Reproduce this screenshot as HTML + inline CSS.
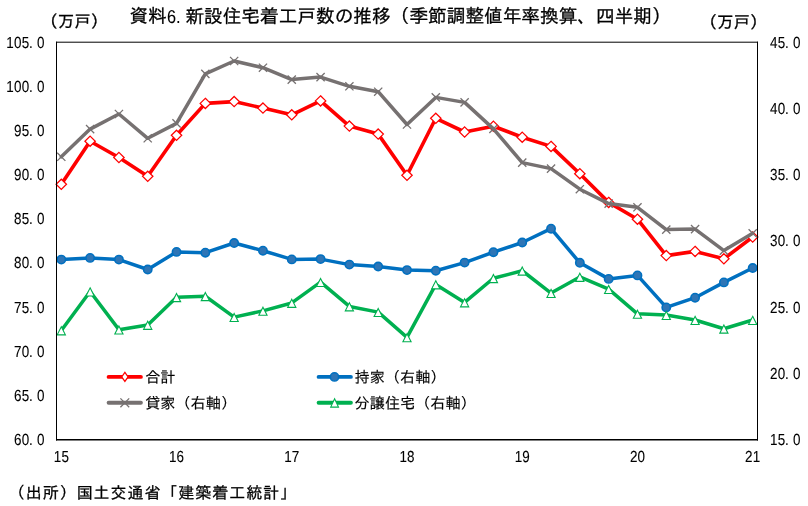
<!DOCTYPE html>
<html lang="ja">
<head>
<meta charset="utf-8">
<title>資料6.新設住宅着工戸数の推移</title>
<style>
html,body{margin:0;padding:0;background:#fff;}
body{width:808px;height:506px;overflow:hidden;}
svg{display:block;}
text{stroke:#000;stroke-width:.3px;}
.d{stroke-width:.1px;}
.l{stroke-width:.15px;}
</style>
</head>
<body>
<svg width="808" height="506" viewBox="0 0 808 506" font-family="'Liberation Sans','IPAGothic','Noto Sans CJK JP',sans-serif" fill="#000">
<rect width="808" height="506" fill="#fff"/>
<text transform="translate(41.2,27.2) rotate(0.03)" font-size="16.5">（万戸）</text>
<text transform="translate(700.6,28) rotate(0.03)" font-size="16.5">（万戸）</text>
<text transform="translate(129.4,22.6) rotate(0.03)" font-size="18.67">資料<tspan class="d" x="37.69" textLength="13.55" lengthAdjust="spacingAndGlyphs">6.</tspan><tspan x="56.01">新設住宅着工戸数の推移</tspan><tspan x="261.38" dy="-0.2">（季節調整値年率換算、四半期）</tspan></text>
<polyline points="61.3,184.3 90.11,141.2 118.92,157.5 147.72,176.3 176.53,135.3 205.34,103.4 234.15,101.6 262.96,108.1 291.76,114.8 320.57,100.9 349.38,126.1 378.19,134.1 407,175.3 435.8,118.3 464.61,132 493.42,126.2 522.23,137.2 551.04,146.4 579.84,173.7 608.65,202.4 637.46,219.2 666.27,255.6 695.08,251.4 723.88,258.8 752.69,237" fill="none" stroke="#ff0000" stroke-width="3.6" stroke-linejoin="round" stroke-linecap="round"/>
<path d="M61.3 179.2L66.5 184.3L61.3 189.4L56.1 184.3Z" fill="#fff" stroke="#ff0000" stroke-width="1.25"/>
<path d="M90.11 136.1L95.31 141.2L90.11 146.3L84.91 141.2Z" fill="#fff" stroke="#ff0000" stroke-width="1.25"/>
<path d="M118.92 152.4L124.12 157.5L118.92 162.6L113.72 157.5Z" fill="#fff" stroke="#ff0000" stroke-width="1.25"/>
<path d="M147.72 171.2L152.92 176.3L147.72 181.4L142.52 176.3Z" fill="#fff" stroke="#ff0000" stroke-width="1.25"/>
<path d="M176.53 130.2L181.73 135.3L176.53 140.4L171.33 135.3Z" fill="#fff" stroke="#ff0000" stroke-width="1.25"/>
<path d="M205.34 98.3L210.54 103.4L205.34 108.5L200.14 103.4Z" fill="#fff" stroke="#ff0000" stroke-width="1.25"/>
<path d="M234.15 96.5L239.35 101.6L234.15 106.7L228.95 101.6Z" fill="#fff" stroke="#ff0000" stroke-width="1.25"/>
<path d="M262.96 103L268.16 108.1L262.96 113.2L257.76 108.1Z" fill="#fff" stroke="#ff0000" stroke-width="1.25"/>
<path d="M291.76 109.7L296.96 114.8L291.76 119.9L286.56 114.8Z" fill="#fff" stroke="#ff0000" stroke-width="1.25"/>
<path d="M320.57 95.8L325.77 100.9L320.57 106L315.37 100.9Z" fill="#fff" stroke="#ff0000" stroke-width="1.25"/>
<path d="M349.38 121L354.58 126.1L349.38 131.2L344.18 126.1Z" fill="#fff" stroke="#ff0000" stroke-width="1.25"/>
<path d="M378.19 129L383.39 134.1L378.19 139.2L372.99 134.1Z" fill="#fff" stroke="#ff0000" stroke-width="1.25"/>
<path d="M407 170.2L412.2 175.3L407 180.4L401.8 175.3Z" fill="#fff" stroke="#ff0000" stroke-width="1.25"/>
<path d="M435.8 113.2L441 118.3L435.8 123.4L430.6 118.3Z" fill="#fff" stroke="#ff0000" stroke-width="1.25"/>
<path d="M464.61 126.9L469.81 132L464.61 137.1L459.41 132Z" fill="#fff" stroke="#ff0000" stroke-width="1.25"/>
<path d="M493.42 121.1L498.62 126.2L493.42 131.3L488.22 126.2Z" fill="#fff" stroke="#ff0000" stroke-width="1.25"/>
<path d="M522.23 132.1L527.43 137.2L522.23 142.3L517.03 137.2Z" fill="#fff" stroke="#ff0000" stroke-width="1.25"/>
<path d="M551.04 141.3L556.24 146.4L551.04 151.5L545.84 146.4Z" fill="#fff" stroke="#ff0000" stroke-width="1.25"/>
<path d="M579.84 168.6L585.04 173.7L579.84 178.8L574.64 173.7Z" fill="#fff" stroke="#ff0000" stroke-width="1.25"/>
<path d="M608.65 197.3L613.85 202.4L608.65 207.5L603.45 202.4Z" fill="#fff" stroke="#ff0000" stroke-width="1.25"/>
<path d="M637.46 214.1L642.66 219.2L637.46 224.3L632.26 219.2Z" fill="#fff" stroke="#ff0000" stroke-width="1.25"/>
<path d="M666.27 250.5L671.47 255.6L666.27 260.7L661.07 255.6Z" fill="#fff" stroke="#ff0000" stroke-width="1.25"/>
<path d="M695.08 246.3L700.28 251.4L695.08 256.5L689.88 251.4Z" fill="#fff" stroke="#ff0000" stroke-width="1.25"/>
<path d="M723.88 253.7L729.08 258.8L723.88 263.9L718.68 258.8Z" fill="#fff" stroke="#ff0000" stroke-width="1.25"/>
<path d="M752.69 231.9L757.89 237L752.69 242.1L747.49 237Z" fill="#fff" stroke="#ff0000" stroke-width="1.25"/>
<polyline points="61.3,259.6 90.11,257.9 118.92,259.6 147.72,269.5 176.53,251.9 205.34,252.7 234.15,243 262.96,250.7 291.76,259.4 320.57,259.1 349.38,264.6 378.19,266.5 407,270.1 435.8,270.7 464.61,262.6 493.42,252.2 522.23,242.5 551.04,228.7 579.84,262.8 608.65,278.9 637.46,275.4 666.27,307.4 695.08,297.7 723.88,282.4 752.69,268" fill="none" stroke="#0070c0" stroke-width="3.5" stroke-linejoin="round" stroke-linecap="round"/>
<circle cx="61.3" cy="259.6" r="4.15" fill="#2e75b6" stroke="#0070c0" stroke-width="1.6"/>
<circle cx="90.11" cy="257.9" r="4.15" fill="#2e75b6" stroke="#0070c0" stroke-width="1.6"/>
<circle cx="118.92" cy="259.6" r="4.15" fill="#2e75b6" stroke="#0070c0" stroke-width="1.6"/>
<circle cx="147.72" cy="269.5" r="4.15" fill="#2e75b6" stroke="#0070c0" stroke-width="1.6"/>
<circle cx="176.53" cy="251.9" r="4.15" fill="#2e75b6" stroke="#0070c0" stroke-width="1.6"/>
<circle cx="205.34" cy="252.7" r="4.15" fill="#2e75b6" stroke="#0070c0" stroke-width="1.6"/>
<circle cx="234.15" cy="243" r="4.15" fill="#2e75b6" stroke="#0070c0" stroke-width="1.6"/>
<circle cx="262.96" cy="250.7" r="4.15" fill="#2e75b6" stroke="#0070c0" stroke-width="1.6"/>
<circle cx="291.76" cy="259.4" r="4.15" fill="#2e75b6" stroke="#0070c0" stroke-width="1.6"/>
<circle cx="320.57" cy="259.1" r="4.15" fill="#2e75b6" stroke="#0070c0" stroke-width="1.6"/>
<circle cx="349.38" cy="264.6" r="4.15" fill="#2e75b6" stroke="#0070c0" stroke-width="1.6"/>
<circle cx="378.19" cy="266.5" r="4.15" fill="#2e75b6" stroke="#0070c0" stroke-width="1.6"/>
<circle cx="407" cy="270.1" r="4.15" fill="#2e75b6" stroke="#0070c0" stroke-width="1.6"/>
<circle cx="435.8" cy="270.7" r="4.15" fill="#2e75b6" stroke="#0070c0" stroke-width="1.6"/>
<circle cx="464.61" cy="262.6" r="4.15" fill="#2e75b6" stroke="#0070c0" stroke-width="1.6"/>
<circle cx="493.42" cy="252.2" r="4.15" fill="#2e75b6" stroke="#0070c0" stroke-width="1.6"/>
<circle cx="522.23" cy="242.5" r="4.15" fill="#2e75b6" stroke="#0070c0" stroke-width="1.6"/>
<circle cx="551.04" cy="228.7" r="4.15" fill="#2e75b6" stroke="#0070c0" stroke-width="1.6"/>
<circle cx="579.84" cy="262.8" r="4.15" fill="#2e75b6" stroke="#0070c0" stroke-width="1.6"/>
<circle cx="608.65" cy="278.9" r="4.15" fill="#2e75b6" stroke="#0070c0" stroke-width="1.6"/>
<circle cx="637.46" cy="275.4" r="4.15" fill="#2e75b6" stroke="#0070c0" stroke-width="1.6"/>
<circle cx="666.27" cy="307.4" r="4.15" fill="#2e75b6" stroke="#0070c0" stroke-width="1.6"/>
<circle cx="695.08" cy="297.7" r="4.15" fill="#2e75b6" stroke="#0070c0" stroke-width="1.6"/>
<circle cx="723.88" cy="282.4" r="4.15" fill="#2e75b6" stroke="#0070c0" stroke-width="1.6"/>
<circle cx="752.69" cy="268" r="4.15" fill="#2e75b6" stroke="#0070c0" stroke-width="1.6"/>
<polyline points="61.3,156.8 90.11,129.1 118.92,114 147.72,138.3 176.53,123.4 205.34,73.9 234.15,61 262.96,67.7 291.76,79.6 320.57,77.1 349.38,86.3 378.19,91.7 407,124.5 435.8,97.4 464.61,102.4 493.42,128.9 522.23,162.6 551.04,168.6 579.84,189.2 608.65,203.6 637.46,207.3 666.27,229.6 695.08,229.1 723.88,250.6 752.69,233.3" fill="none" stroke="#767171" stroke-width="3.5" stroke-linejoin="round" stroke-linecap="round"/>
<path d="M57.2 152.7L65.4 160.9M57.2 160.9L65.4 152.7" fill="none" stroke="#767171" stroke-width="1.3"/>
<path d="M86.01 125L94.21 133.2M86.01 133.2L94.21 125" fill="none" stroke="#767171" stroke-width="1.3"/>
<path d="M114.82 109.9L123.02 118.1M114.82 118.1L123.02 109.9" fill="none" stroke="#767171" stroke-width="1.3"/>
<path d="M143.62 134.2L151.82 142.4M143.62 142.4L151.82 134.2" fill="none" stroke="#767171" stroke-width="1.3"/>
<path d="M172.43 119.3L180.63 127.5M172.43 127.5L180.63 119.3" fill="none" stroke="#767171" stroke-width="1.3"/>
<path d="M201.24 69.8L209.44 78M201.24 78L209.44 69.8" fill="none" stroke="#767171" stroke-width="1.3"/>
<path d="M230.05 56.9L238.25 65.1M230.05 65.1L238.25 56.9" fill="none" stroke="#767171" stroke-width="1.3"/>
<path d="M258.86 63.6L267.06 71.8M258.86 71.8L267.06 63.6" fill="none" stroke="#767171" stroke-width="1.3"/>
<path d="M287.66 75.5L295.86 83.7M287.66 83.7L295.86 75.5" fill="none" stroke="#767171" stroke-width="1.3"/>
<path d="M316.47 73L324.67 81.2M316.47 81.2L324.67 73" fill="none" stroke="#767171" stroke-width="1.3"/>
<path d="M345.28 82.2L353.48 90.4M345.28 90.4L353.48 82.2" fill="none" stroke="#767171" stroke-width="1.3"/>
<path d="M374.09 87.6L382.29 95.8M374.09 95.8L382.29 87.6" fill="none" stroke="#767171" stroke-width="1.3"/>
<path d="M402.9 120.4L411.1 128.6M402.9 128.6L411.1 120.4" fill="none" stroke="#767171" stroke-width="1.3"/>
<path d="M431.7 93.3L439.9 101.5M431.7 101.5L439.9 93.3" fill="none" stroke="#767171" stroke-width="1.3"/>
<path d="M460.51 98.3L468.71 106.5M460.51 106.5L468.71 98.3" fill="none" stroke="#767171" stroke-width="1.3"/>
<path d="M489.32 124.8L497.52 133M489.32 133L497.52 124.8" fill="none" stroke="#767171" stroke-width="1.3"/>
<path d="M518.13 158.5L526.33 166.7M518.13 166.7L526.33 158.5" fill="none" stroke="#767171" stroke-width="1.3"/>
<path d="M546.94 164.5L555.14 172.7M546.94 172.7L555.14 164.5" fill="none" stroke="#767171" stroke-width="1.3"/>
<path d="M575.74 185.1L583.94 193.3M575.74 193.3L583.94 185.1" fill="none" stroke="#767171" stroke-width="1.3"/>
<path d="M604.55 199.5L612.75 207.7M604.55 207.7L612.75 199.5" fill="none" stroke="#767171" stroke-width="1.3"/>
<path d="M633.36 203.2L641.56 211.4M633.36 211.4L641.56 203.2" fill="none" stroke="#767171" stroke-width="1.3"/>
<path d="M662.17 225.5L670.37 233.7M662.17 233.7L670.37 225.5" fill="none" stroke="#767171" stroke-width="1.3"/>
<path d="M690.98 225L699.18 233.2M690.98 233.2L699.18 225" fill="none" stroke="#767171" stroke-width="1.3"/>
<path d="M719.78 246.5L727.98 254.7M719.78 254.7L727.98 246.5" fill="none" stroke="#767171" stroke-width="1.3"/>
<path d="M748.59 229.2L756.79 237.4M748.59 237.4L756.79 229.2" fill="none" stroke="#767171" stroke-width="1.3"/>
<polyline points="61.3,330.45 90.11,291.55 118.92,329.65 147.72,324.95 176.53,297.25 205.34,296.25 234.15,317.15 262.96,310.85 291.76,302.95 320.57,282.15 349.38,306.45 378.19,312.15 407,337.35 435.8,284.45 464.61,302.45 493.42,278.25 522.23,270.75 551.04,293.05 579.84,276.95 608.65,289.15 637.46,313.85 666.27,315.05 695.08,320.05 723.88,328.75 752.69,320.05" fill="none" stroke="#00b050" stroke-width="3.5" stroke-linejoin="round" stroke-linecap="round"/>
<path d="M61.3 326.75L65.4 334.85L57.2 334.85Z" fill="#fff" stroke="#00b050" stroke-width="1.1"/>
<path d="M90.11 287.85L94.21 295.95L86.01 295.95Z" fill="#fff" stroke="#00b050" stroke-width="1.1"/>
<path d="M118.92 325.95L123.02 334.05L114.82 334.05Z" fill="#fff" stroke="#00b050" stroke-width="1.1"/>
<path d="M147.72 321.25L151.82 329.35L143.62 329.35Z" fill="#fff" stroke="#00b050" stroke-width="1.1"/>
<path d="M176.53 293.55L180.63 301.65L172.43 301.65Z" fill="#fff" stroke="#00b050" stroke-width="1.1"/>
<path d="M205.34 292.55L209.44 300.65L201.24 300.65Z" fill="#fff" stroke="#00b050" stroke-width="1.1"/>
<path d="M234.15 313.45L238.25 321.55L230.05 321.55Z" fill="#fff" stroke="#00b050" stroke-width="1.1"/>
<path d="M262.96 307.15L267.06 315.25L258.86 315.25Z" fill="#fff" stroke="#00b050" stroke-width="1.1"/>
<path d="M291.76 299.25L295.86 307.35L287.66 307.35Z" fill="#fff" stroke="#00b050" stroke-width="1.1"/>
<path d="M320.57 278.45L324.67 286.55L316.47 286.55Z" fill="#fff" stroke="#00b050" stroke-width="1.1"/>
<path d="M349.38 302.75L353.48 310.85L345.28 310.85Z" fill="#fff" stroke="#00b050" stroke-width="1.1"/>
<path d="M378.19 308.45L382.29 316.55L374.09 316.55Z" fill="#fff" stroke="#00b050" stroke-width="1.1"/>
<path d="M407 333.65L411.1 341.75L402.9 341.75Z" fill="#fff" stroke="#00b050" stroke-width="1.1"/>
<path d="M435.8 280.75L439.9 288.85L431.7 288.85Z" fill="#fff" stroke="#00b050" stroke-width="1.1"/>
<path d="M464.61 298.75L468.71 306.85L460.51 306.85Z" fill="#fff" stroke="#00b050" stroke-width="1.1"/>
<path d="M493.42 274.55L497.52 282.65L489.32 282.65Z" fill="#fff" stroke="#00b050" stroke-width="1.1"/>
<path d="M522.23 267.05L526.33 275.15L518.13 275.15Z" fill="#fff" stroke="#00b050" stroke-width="1.1"/>
<path d="M551.04 289.35L555.14 297.45L546.94 297.45Z" fill="#fff" stroke="#00b050" stroke-width="1.1"/>
<path d="M579.84 273.25L583.94 281.35L575.74 281.35Z" fill="#fff" stroke="#00b050" stroke-width="1.1"/>
<path d="M608.65 285.45L612.75 293.55L604.55 293.55Z" fill="#fff" stroke="#00b050" stroke-width="1.1"/>
<path d="M637.46 310.15L641.56 318.25L633.36 318.25Z" fill="#fff" stroke="#00b050" stroke-width="1.1"/>
<path d="M666.27 311.35L670.37 319.45L662.17 319.45Z" fill="#fff" stroke="#00b050" stroke-width="1.1"/>
<path d="M695.08 316.35L699.18 324.45L690.98 324.45Z" fill="#fff" stroke="#00b050" stroke-width="1.1"/>
<path d="M723.88 325.05L727.98 333.15L719.78 333.15Z" fill="#fff" stroke="#00b050" stroke-width="1.1"/>
<path d="M752.69 316.35L756.79 324.45L748.59 324.45Z" fill="#fff" stroke="#00b050" stroke-width="1.1"/>
<path d="M56.5 41.7V440.5M757.5 41.7V440.5" stroke="#000" stroke-width="1" fill="none"/>
<path d="M56 42.2H758" stroke="#000" stroke-width="1" fill="none"/>
<path d="M56 439.75H758" stroke="#000" stroke-width="1.5" fill="none"/>
<text transform="translate(6.27,47.6) rotate(0.03) scale(0.8400,1)" x="4.55 13.66 22.77 29.42 40.98" font-size="16" text-anchor="middle" class="d">105.0</text>
<text transform="translate(6.27,91.77) rotate(0.03) scale(0.8400,1)" x="4.55 13.66 22.77 29.42 40.98" font-size="16" text-anchor="middle" class="d">100.0</text>
<text transform="translate(13.92,135.94) rotate(0.03) scale(0.8400,1)" x="4.55 13.66 20.31 31.88" font-size="16" text-anchor="middle" class="d">95.0</text>
<text transform="translate(13.92,180.12) rotate(0.03) scale(0.8400,1)" x="4.55 13.66 20.31 31.88" font-size="16" text-anchor="middle" class="d">90.0</text>
<text transform="translate(13.92,224.29) rotate(0.03) scale(0.8400,1)" x="4.55 13.66 20.31 31.88" font-size="16" text-anchor="middle" class="d">85.0</text>
<text transform="translate(13.92,268.46) rotate(0.03) scale(0.8400,1)" x="4.55 13.66 20.31 31.88" font-size="16" text-anchor="middle" class="d">80.0</text>
<text transform="translate(13.92,312.63) rotate(0.03) scale(0.8400,1)" x="4.55 13.66 20.31 31.88" font-size="16" text-anchor="middle" class="d">75.0</text>
<text transform="translate(13.92,356.81) rotate(0.03) scale(0.8400,1)" x="4.55 13.66 20.31 31.88" font-size="16" text-anchor="middle" class="d">70.0</text>
<text transform="translate(13.92,400.98) rotate(0.03) scale(0.8400,1)" x="4.55 13.66 20.31 31.88" font-size="16" text-anchor="middle" class="d">65.0</text>
<text transform="translate(13.92,445.15) rotate(0.03) scale(0.8400,1)" x="4.55 13.66 20.31 31.88" font-size="16" text-anchor="middle" class="d">60.0</text>
<text transform="translate(769.9,47.6) rotate(0.03) scale(0.8400,1)" x="4.55 13.66 20.31 31.88" font-size="16" text-anchor="middle" class="d">45.0</text>
<text transform="translate(769.9,113.86) rotate(0.03) scale(0.8400,1)" x="4.55 13.66 20.31 31.88" font-size="16" text-anchor="middle" class="d">40.0</text>
<text transform="translate(769.9,180.12) rotate(0.03) scale(0.8400,1)" x="4.55 13.66 20.31 31.88" font-size="16" text-anchor="middle" class="d">35.0</text>
<text transform="translate(769.9,246.38) rotate(0.03) scale(0.8400,1)" x="4.55 13.66 20.31 31.88" font-size="16" text-anchor="middle" class="d">30.0</text>
<text transform="translate(769.9,312.63) rotate(0.03) scale(0.8400,1)" x="4.55 13.66 20.31 31.88" font-size="16" text-anchor="middle" class="d">25.0</text>
<text transform="translate(769.9,378.89) rotate(0.03) scale(0.8400,1)" x="4.55 13.66 20.31 31.88" font-size="16" text-anchor="middle" class="d">20.0</text>
<text transform="translate(769.9,445.15) rotate(0.03) scale(0.8400,1)" x="4.55 13.66 20.31 31.88" font-size="16" text-anchor="middle" class="d">15.0</text>
<text transform="translate(53.65,462.1) rotate(0.03) scale(0.8400,1)" x="4.55 13.66" font-size="16" text-anchor="middle" class="d">15</text>
<text transform="translate(168.88,462.1) rotate(0.03) scale(0.8400,1)" x="4.55 13.66" font-size="16" text-anchor="middle" class="d">16</text>
<text transform="translate(284.11,462.1) rotate(0.03) scale(0.8400,1)" x="4.55 13.66" font-size="16" text-anchor="middle" class="d">17</text>
<text transform="translate(399.35,462.1) rotate(0.03) scale(0.8400,1)" x="4.55 13.66" font-size="16" text-anchor="middle" class="d">18</text>
<text transform="translate(514.58,462.1) rotate(0.03) scale(0.8400,1)" x="4.55 13.66" font-size="16" text-anchor="middle" class="d">19</text>
<text transform="translate(629.81,462.1) rotate(0.03) scale(0.8400,1)" x="4.55 13.66" font-size="16" text-anchor="middle" class="d">20</text>
<text transform="translate(745.04,462.1) rotate(0.03) scale(0.8400,1)" x="4.55 13.66" font-size="16" text-anchor="middle" class="d">21</text>
<line x1="108.6" y1="376.9" x2="140.9" y2="376.9" stroke="#ff0000" stroke-width="3.9" stroke-linecap="round"/>
<path d="M124.9 372.4L128.1 376.9L124.9 381.4L121.7 376.9Z" fill="#fff" stroke="#ff0000" stroke-width="1.25"/>
<text transform="translate(145.2,382.4) rotate(0.03)" font-size="15.15" class="l">合計</text>
<line x1="318.6" y1="376.9" x2="350.9" y2="376.9" stroke="#0070c0" stroke-width="3.9" stroke-linecap="round"/>
<circle cx="334.5" cy="376.9" r="4.15" fill="#2e75b6" stroke="#0070c0" stroke-width="1.6"/>
<text transform="translate(354.6,382.4) rotate(0.03)" font-size="15.15" class="l">持家（右軸）</text>
<line x1="108.6" y1="402.8" x2="140.9" y2="402.8" stroke="#767171" stroke-width="3.9" stroke-linecap="round"/>
<path d="M120.4 398.4L129.2 407.2M120.4 407.2L129.2 398.4" fill="none" stroke="#767171" stroke-width="1.3"/>
<text transform="translate(145.2,408.4) rotate(0.03)" font-size="15.15" class="l">貸家（右軸）</text>
<line x1="318.6" y1="402.8" x2="350.9" y2="402.8" stroke="#00b050" stroke-width="3.9" stroke-linecap="round"/>
<path d="M334.6 398.7L338.5 407.1L330.7 407.1Z" fill="#fff" stroke="#00b050" stroke-width="1.1"/>
<text transform="translate(354.6,408.4) rotate(0.03)" font-size="15.15" class="l">分譲住宅（右軸）</text>
<text transform="translate(8.85,498.35) rotate(0.03)" font-size="16" letter-spacing="0.95">（出所）国土交通省「建築着工統計」</text>
</svg>
</body>
</html>
